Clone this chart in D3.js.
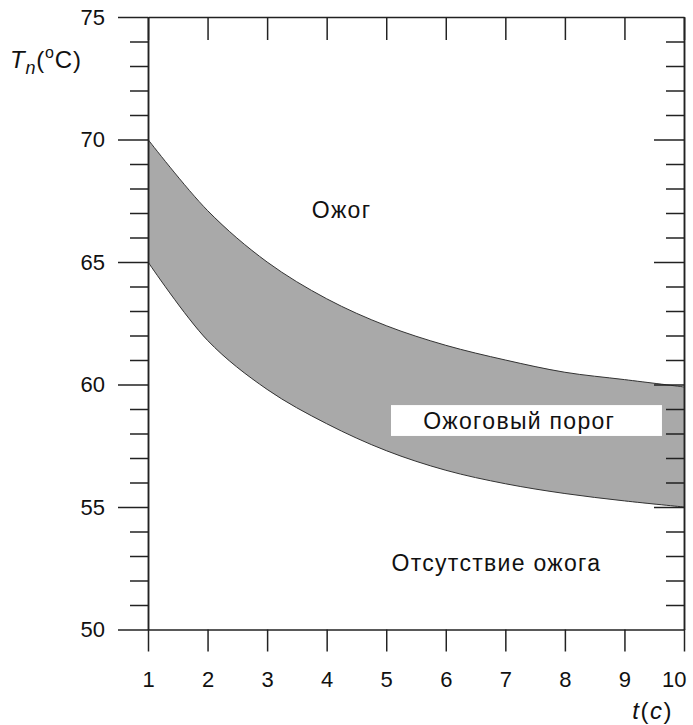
<!DOCTYPE html>
<html>
<head>
<meta charset="utf-8">
<script src="https://cdn.jsdelivr.net/npm/d3@7"></script>
<style>
  body { margin: 0; background: #fff; }
  text { font-family: Arial, "Liberation Sans", sans-serif; fill: #111; }
  .domain, .tick line { stroke: #222; stroke-width: 1.5px; }
  .note { font-size: 23px; letter-spacing: 1.3px; }
</style>
</head>
<body>
<div id="chart"></div>
<script>
// Values
const times = [1, 2, 3, 4, 5, 6, 7, 8, 9, 10];
const upperTemp = [70, 67.1, 65.0, 63.5, 62.4, 61.6, 61.0, 60.5, 60.2, 59.9];
const lowerTemp = [65, 61.8, 59.8, 58.4, 57.3, 56.5, 55.95, 55.55, 55.25, 55.0];
const xTicks = [1, 2, 3, 4, 5, 6, 7, 8, 9, 10];
const yMajorTicks = [50, 55, 60, 65, 70, 75];
const yMinorTicks = d3.range(50, 76).filter(v => v % 5 !== 0);

const margin = { top: 17, right: 9, bottom: 95.5, left: 148 },
    width = 693 - margin.left - margin.right,
    height = 725 - margin.top - margin.bottom;

const svg = d3.select("#chart")
    .append("svg")
    .attr("width", 693)
    .attr("height", 725)
    .append("g")
    .attr("transform", `translate(${margin.left},${margin.top})`);

const x = d3.scaleLinear().domain([1, 10]).range([0, width]);
const y = d3.scaleLinear().domain([50, 75]).range([height, 0]);

const band = times.map((t, i) => ({ t: t, hi: upperTemp[i], lo: lowerTemp[i] }));
const smooth = d3.curveCatmullRom.alpha(0.5);

// grey band between the two curves
svg.append("path")
    .datum(band)
    .attr("fill", "#a9a9a9")
    .attr("d", d3.area()
        .x(d => x(d.t))
        .y0(d => y(d.lo))
        .y1(d => y(d.hi))
        .curve(smooth));

["hi", "lo"].forEach(k => {
    svg.append("path")
        .datum(band)
        .attr("fill", "none")
        .attr("stroke", "#333")
        .attr("stroke-width", 1)
        .attr("d", d3.line()
            .x(d => x(d.t))
            .y(d => y(d[k]))
            .curve(smooth));
});

// label in white box
svg.append("rect")
    .attr("x", x(5.08))
    .attr("y", y(59.16))
    .attr("width", x(9.63) - x(5.08))
    .attr("height", y(57.9) - y(59.16))
    .attr("fill", "#fff");
svg.append("text")
    .attr("class", "note")
    .attr("x", x(5.62))
    .attr("y", y(58.53))
    .attr("dy", "0.35em")
    .text("Ожоговый порог");

svg.append("text")
    .attr("class", "note")
    .attr("x", x(4.25))
    .attr("y", y(66.8))
    .attr("text-anchor", "middle")
    .text("Ожог");

svg.append("text")
    .attr("class", "note")
    .attr("x", x(6.85))
    .attr("y", y(52.4))
    .attr("text-anchor", "middle")
    .text("Отсутствие ожога");

// left axis: minor then major
svg.append("g")
    .call(d3.axisLeft(y).tickValues(yMinorTicks).tickSize(18).tickSizeOuter(0).tickFormat(""));
svg.append("g")
    .call(d3.axisLeft(y).tickValues(yMajorTicks).tickSize(30).tickSizeOuter(0).tickPadding(13))
    .selectAll("text").style("font-size", "22px");

// right axis, ticks inward
svg.append("g")
    .attr("transform", `translate(${width},0)`)
    .call(d3.axisLeft(y).tickValues(yMinorTicks).tickSize(18).tickSizeOuter(0).tickFormat(""));
svg.append("g")
    .attr("transform", `translate(${width},0)`)
    .call(d3.axisLeft(y).tickValues(yMajorTicks.slice(1, 5)).tickSize(30).tickSizeOuter(0).tickFormat(""));

// top axis, ticks inward
svg.append("g")
    .call(d3.axisBottom(x).tickValues(xTicks).tickSize(23).tickSizeOuter(0).tickFormat(""));

// bottom axis
const xAxisG = svg.append("g")
    .attr("transform", `translate(0,${height})`)
    .call(d3.axisBottom(x).tickValues(xTicks).tickSize(22).tickSizeOuter(0).tickPadding(20));
xAxisG.selectAll("text").style("font-size", "22px");
xAxisG.selectAll("text").filter(d => d === 10).attr("text-anchor", "end").attr("x", 2);

// axis titles
const yTitle = svg.append("text")
    .attr("x", -138)
    .attr("y", 51)
    .style("font-size", "24px")
    .style("letter-spacing", "0.8px");
yTitle.append("tspan").style("font-style", "italic").text("T");
yTitle.append("tspan").style("font-style", "italic").style("font-size", "18px").attr("dy", 6).text("n");
yTitle.append("tspan").attr("dy", -6).text("(");
yTitle.append("tspan").style("font-size", "16px").attr("dy", -10).text("o");
yTitle.append("tspan").attr("dy", 10).text("C)");

const xTitle = svg.append("text")
    .attr("x", width - 11)
    .attr("y", height + 89)
    .attr("text-anchor", "end")
    .style("font-size", "24px")
    .style("letter-spacing", "1.5px");
xTitle.append("tspan").style("font-style", "italic").text("t");
xTitle.append("tspan").text("(");
xTitle.append("tspan").style("font-style", "italic").text("c");
xTitle.append("tspan").text(")");
</script>
</body>
</html>
